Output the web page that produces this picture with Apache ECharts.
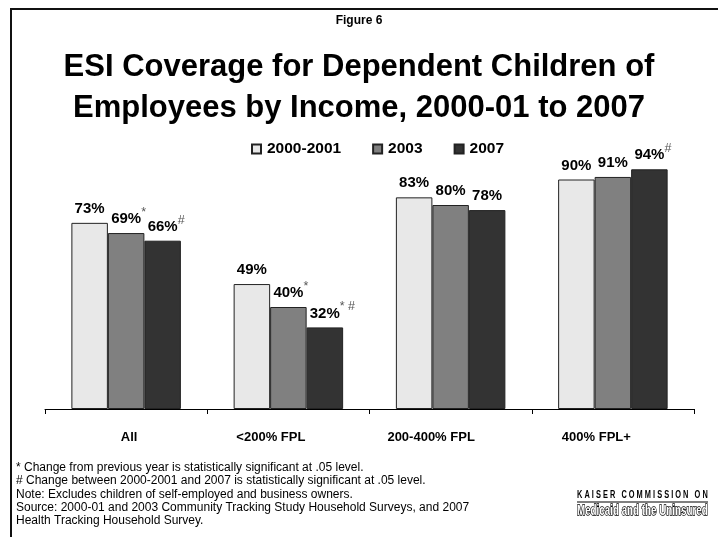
<!DOCTYPE html>
<html>
<head>
<meta charset="utf-8">
<script src="https://cdn.jsdelivr.net/npm/echarts@6/dist/echarts.min.js"></script>
<style>
html,body{margin:0;padding:0;background:#fff;}
#chart{width:718px;height:537px;}
</style>
</head>
<body>
<div id="chart"></div>
<script>
var categories = ['All', '<200% FPL', '200-400% FPL', '400% FPL+'];
var seriesNames = ['2000-2001', '2003', '2007'];
var v2000 = [73, 49, 83, 90];
var v2003 = [69, 40, 80, 91];
var v2007 = [66, 32, 78, 94];
var mark2000 = ['', '', '', ''];
var mark2003 = ['*', '*', '', ''];
var mark2007 = ['#', '* #', '', '#'];
var footnotes = [
  '* Change from previous year is statistically significant at .05 level.',
  '# Change between 2000-2001 and 2007 is statistically significant at .05 level.',
  'Note: Excludes children of self-employed and business owners.',
  'Source: 2000-01 and 2003 Community Tracking Study Household Surveys, and 2007',
  'Health Tracking Household Survey.'
];

var FONT = '"Liberation Sans", Arial, Helvetica, sans-serif';
var values = [v2000, v2003, v2007];
var marks = [mark2000, mark2003, mark2007];
var colors = ['#e8e8e8', '#808080', '#333333'];
var spacerW = {'*': 5, '#': 7, '* #': 15};

function labelFormatter(p) {
  var m = marks[p.seriesIndex][p.dataIndex];
  var v = '{v|' + p.value + '%}';
  if (!m) return v;
  var key = m === '*' ? 'p1' : (m === '#' ? 'p2' : 'p3');
  return '{' + key + '|}' + v + '{s|' + m + '}';
}

var labelRich = {
  v: {fontFamily: FONT, fontSize: 15, fontWeight: 'bold', color: '#000', lineHeight: 26},
  s: {fontFamily: FONT, fontSize: 12.5, color: '#555', lineHeight: 12, verticalAlign: 'top'},
  p1: {width: spacerW['*'], lineHeight: 12},
  p2: {width: spacerW['#'], lineHeight: 12},
  p3: {width: spacerW['* #'], lineHeight: 12}
};

var series = seriesNames.map(function (name, i) {
  return {
    name: name,
    type: 'bar',
    data: values[i],
    barWidth: 36.5,
    barGap: '0%',
    itemStyle: {color: colors[i], borderColor: '#222', borderWidth: 1},
    label: {
      show: true,
      position: 'top',
      distance: 1,
      formatter: labelFormatter,
      rich: labelRich
    },
    emphasis: {disabled: true}
  };
});

var catRich = {};
var catPad = [[0, 0, 0, 6], [0, 35, 0, 0], [0, 39, 0, 0], [0, 33, 0, 0]];
categories.forEach(function (c, i) {
  catRich['c' + i] = {fontFamily: FONT, fontSize: 13, fontWeight: 'bold', color: '#000', padding: catPad[i]};
});

var chart = echarts.init(document.getElementById('chart'), null, {renderer: 'canvas'});
chart.setOption({
  animation: false,
  backgroundColor: '#fff',
  title: [
    {
      text: 'Figure 6', left: 'center', top: 10,
      textStyle: {fontFamily: FONT, fontSize: 12, fontWeight: 'bold', color: '#000'}
    },
    {
      text: 'ESI Coverage for Dependent Children of\nEmployees by Income, 2000-01 to 2007',
      left: 'center', top: 42,
      textStyle: {fontFamily: FONT, fontSize: 31, fontWeight: 'bold', color: '#000', lineHeight: 41}
    }
  ],
  legend: {
    data: seriesNames,
    left: 246, top: 136,
    itemWidth: 9, itemHeight: 9, itemGap: 31,
    icon: 'rect',
    textStyle: {fontFamily: FONT, fontSize: 15.5, fontWeight: 'bold', color: '#000', padding: [0, 0, 0, 1]},
    selectedMode: false
  },
  grid: {left: 45, right: 24, top: 154, bottom: 128, containLabel: false},
  xAxis: {
    type: 'category',
    data: categories,
    axisLine: {lineStyle: {color: '#000', width: 1}},
    axisTick: {show: true, length: 5, lineStyle: {color: '#000'}},
    axisLabel: {
      margin: 22,
      formatter: function (val, idx) { return '{c' + idx + '|' + val + '}'; },
      rich: catRich
    }
  },
  yAxis: {type: 'value', min: 0, max: 100, show: false, splitLine: {show: false}},
  series: series,
  graphic: [
    {
      type: 'rect', z: -1, silent: true,
      shape: {x: 11, y: 9, width: 740, height: 560},
      style: {fill: null, stroke: '#111', lineWidth: 2}
    },
    {
      type: 'text', x: 16, y: 461, silent: true,
      style: {text: footnotes.join('\n'), font: '12px ' + FONT, fill: '#000', lineHeight: 13.3}
    },
    {
      type: 'text', x: 577, y: 490, scaleX: 0.74, silent: true,
      style: {text: 'K A I S E R   C O M M I S S I O N   O N', font: 'bold 10px ' + FONT, fill: '#000'}
    },
    {
      type: 'line', silent: true,
      shape: {x1: 577, y1: 502, x2: 708, y2: 502},
      style: {stroke: '#000', lineWidth: 1.2}
    },
    {
      type: 'text', x: 577, y: 504, scaleX: 0.70, silent: true,
      style: {text: 'Medicaid and the Uninsured', font: 'bold 14px ' + FONT, fill: '#fff', stroke: '#000', lineWidth: 1.4}
    }
  ]
});
</script>
</body>
</html>
